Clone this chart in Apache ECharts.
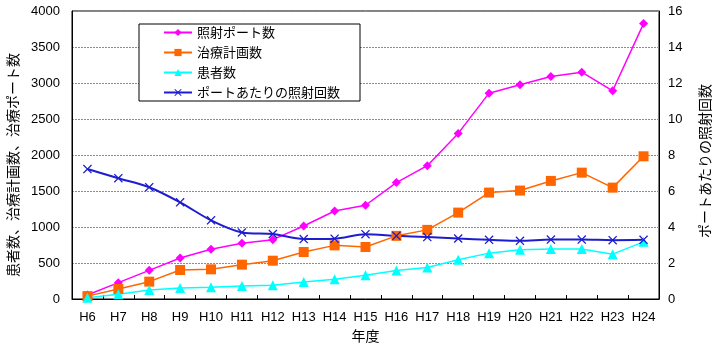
<!DOCTYPE html>
<html>
<head>
<meta charset="utf-8">
<script src="https://cdn.jsdelivr.net/npm/echarts@6/dist/echarts.min.js"></script>
<style>
html,body{margin:0;padding:0;background:#fff;}
#chart{width:713px;height:344px;}
</style>
</head>
<body>
<div id="chart"></div>
<script>
const years = ['H6','H7','H8','H9','H10','H11','H12','H13','H14','H15','H16','H17','H18','H19','H20','H21','H22','H23','H24'];
const portCounts = [56, 227, 398, 569, 690, 773, 824, 1014, 1222, 1302, 1617, 1852, 2300, 2859, 2975, 3090, 3150, 2892, 3825];
const planCounts = [40, 139, 241, 403, 412, 477, 532, 653, 745, 722, 877, 960, 1200, 1478, 1506, 1640, 1755, 1547, 1982];
const patientCounts = [18, 65, 125, 153, 162, 180, 190, 236, 273, 330, 397, 438, 545, 637, 683, 693, 693, 623, 794];
const perPort = [7.22, 6.71, 6.21, 5.37, 4.37, 3.70, 3.61, 3.33, 3.35, 3.60, 3.51, 3.44, 3.36, 3.29, 3.23, 3.30, 3.30, 3.27, 3.29];
const seriesNames = ['照射ポート数', '治療計画数', '患者数', 'ポートあたりの照射回数'];

const FONT = 'Arial, "Liberation Sans", "Noto Sans CJK JP", sans-serif';
const JFONT = '"Noto Sans CJK JP", sans-serif';
const xSym = 'path://M0,1L1,0L5,4L9,0L10,1L6,5L10,9L9,10L5,6L1,10L0,9L4,5Z';

const chart = echarts.init(document.getElementById('chart'), null, {renderer: 'canvas'});
chart.setOption({
  animation: false,
  backgroundColor: '#fff',
  textStyle: {fontFamily: FONT},
  grid: {left: 72, right: 54, top: 11, bottom: 45, show: true, borderColor: '#000', borderWidth: 1,
         backgroundColor: 'transparent', containLabel: false, outerBoundsMode: 'none'},
  legend: {
    orient: 'vertical', left: 139, top: 24,
    padding: [2, 20, 2, 24],
    borderColor: '#000', borderWidth: 1, backgroundColor: '#fff',
    itemWidth: 28, itemHeight: 9, itemGap: 7,
    textStyle: {fontFamily: JFONT, fontSize: 13, color: '#000'},
    data: seriesNames
  },
  xAxis: {
    type: 'category', data: years, boundaryGap: true,
    name: '年度', nameLocation: 'middle', nameGap: 30,
    nameTextStyle: {fontFamily: JFONT, fontSize: 14, color: '#000'},
    axisLine: {lineStyle: {color: '#000', width: 1}},
    axisTick: {show: true, inside: true, length: 4, lineStyle: {color: '#000'}},
    axisLabel: {color: '#000', fontSize: 13, margin: 12, fontFamily: FONT, interval: 0, hideOverlap: false},
    splitLine: {show: false}
  },
  yAxis: [
    {
      type: 'value', min: 0, max: 4000, interval: 500, position: 'left',
      name: '患者数、治療計画数、治療ポート数', nameLocation: 'middle', nameRotate: 90, nameGap: 51,
      nameTextStyle: {fontFamily: JFONT, fontSize: 14, color: '#000', padding: [0, 20, 0, 0]},
      axisLine: {show: true, lineStyle: {color: '#000'}},
      axisTick: {show: false},
      axisLabel: {color: '#000', fontSize: 13, margin: 12, fontFamily: FONT, formatter: v => String(v)},
      splitLine: {show: true, lineStyle: {color: '#8c8c8c', width: 1, type: [2, 1]}}
    },
    {
      type: 'value', min: 0, max: 16, interval: 2, position: 'right',
      name: 'ポートあたりの照射回数', nameLocation: 'middle', nameRotate: 90, nameGap: 39,
      nameTextStyle: {fontFamily: JFONT, fontSize: 14, color: '#000', padding: [0, 12, 0, 0]},
      axisLine: {show: true, lineStyle: {color: '#000'}},
      axisTick: {show: false},
      axisLabel: {color: '#000', fontSize: 13, margin: 9, fontFamily: FONT, formatter: v => String(v)},
      splitLine: {show: false}
    }
  ],
  series: [
    {
      name: seriesNames[0], type: 'line', yAxisIndex: 0, data: portCounts,
      symbol: 'diamond', symbolSize: 9,
      lineStyle: {color: '#ff00ff', width: 1.5}, itemStyle: {color: '#ff00ff'}
    },
    {
      name: seriesNames[1], type: 'line', yAxisIndex: 0, data: planCounts,
      symbol: 'rect', symbolSize: 10,
      lineStyle: {color: '#ff6600', width: 1.5}, itemStyle: {color: '#ff6600'}
    },
    {
      name: seriesNames[2], type: 'line', yAxisIndex: 0, data: patientCounts,
      symbol: 'triangle', symbolSize: 10,
      lineStyle: {color: '#00ffff', width: 1.5}, itemStyle: {color: '#00ffff'}
    },
    {
      name: seriesNames[3], type: 'line', yAxisIndex: 1, data: perPort,
      symbol: xSym, symbolSize: 9, smooth: 0.3,
      lineStyle: {color: '#1c1cd0', width: 2}, itemStyle: {color: '#1c1cd0'}
    }
  ]
});
</script>
</body>
</html>
